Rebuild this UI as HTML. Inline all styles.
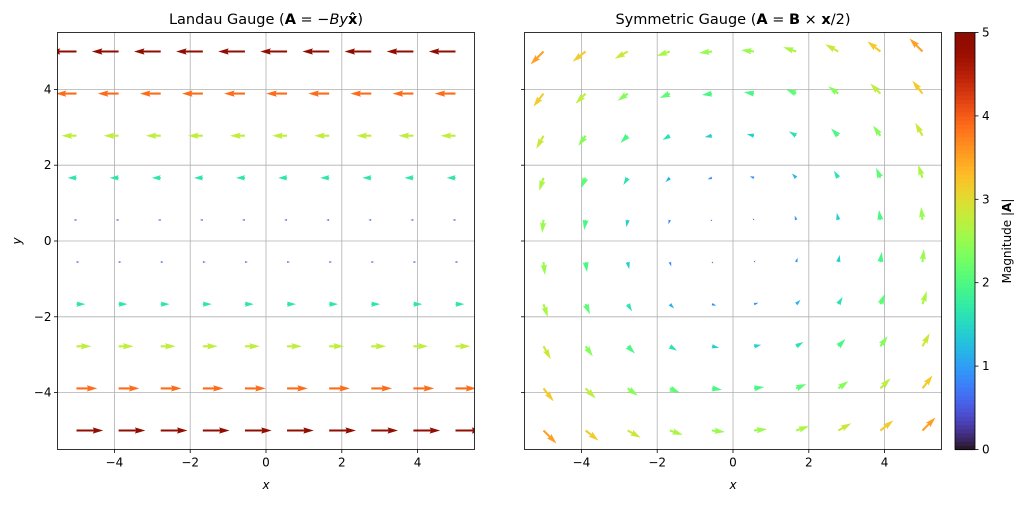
<!DOCTYPE html>
<html><head><meta charset="utf-8"><style>
body{margin:0;background:#fff;}
svg text{font-family:"DejaVu Sans","Liberation Sans",sans-serif;fill:#000;}
</style></head><body>
<svg id="s" width="1024" height="501" xmlns="http://www.w3.org/2000/svg"></svg>
<script>
(function(){
const S=document.getElementById('s');const NS='http://www.w3.org/2000/svg';
function el(t,a,txt,parent){const e=document.createElementNS(NS,t);for(const k in a)e.setAttribute(k,a[k]);if(txt!==undefined&&txt!==null)e.textContent=txt;(parent||S).appendChild(e);return e;}
function turbo(x){x=Math.max(0,Math.min(1,x));
const r=0.13572138+x*(4.61539260+x*(-42.66032258+x*(132.13108234+x*(-152.94239396+x*59.28637943))));
const g=0.09140261+x*(2.19418839+x*(4.84296658+x*(-14.18503333+x*(4.27729857+x*2.82956604))));
const b=0.10667330+x*(12.64194608+x*(-60.58204836+x*(110.36276771+x*(-89.90310912+x*27.34824973))));
const c=v=>Math.round(255*Math.max(0,Math.min(1,v)));return 'rgb('+c(r)+','+c(g)+','+c(b)+')';}
const sc=37.9, cy=241, yTop=32.5, yBot=449.5;
function spans(parent,parts){parts.forEach(p=>{const t=document.createElementNS(NS,'tspan');t.textContent=p[0];if(p[1]==='b')t.setAttribute('font-weight','bold');if(p[1]==='i')t.setAttribute('font-style','italic');parent.appendChild(t);});}
const axes=[{cx:266,x0:57.5,x1:474.5,k:5.35,f:(x,y)=>[-y,0],title:[['Landau Gauge ('],['A','b'],[' = −'],['By','i'],['x̂','b'],[')']],yl:true},
{cx:733,x0:524.5,x1:941.5,k:5.2,f:(x,y)=>[-y/2,x/2],title:[['Symmetric Gauge ('],['A','b'],[' = '],['B','b'],[' × '],['x','b'],['/2)']],yl:false}];
const pts=[];for(let i=0;i<10;i++)pts.push(-5+i*10/9);
const defs=el('defs',{});
axes.forEach((A,ai)=>{
 const cid='c'+ai;
 const cp=el('clipPath',{id:cid},null,defs);
 el('rect',{x:A.x0,y:yTop,width:A.x1-A.x0,height:yBot-yTop},null,cp);
 for(let v=-4;v<=4;v+=2){const px=A.cx+v*sc;el('line',{x1:px,x2:px,y1:yTop,y2:yBot,stroke:'#b0b0b0','stroke-width':0.8});
  const py=cy-v*sc;el('line',{x1:A.x0,x2:A.x1,y1:py,y2:py,stroke:'#b0b0b0','stroke-width':0.8});
  el('line',{x1:px,x2:px,y1:yBot,y2:yBot+3.5,stroke:'#000','stroke-width':0.8});
  el('line',{x1:A.x0-3.5,x2:A.x0,y1:py,y2:py,stroke:'#000','stroke-width':0.8});
  const lab=(v<0?'−':'')+Math.abs(v);
  el('text',{x:px,y:yBot+17,'font-size':12,'text-anchor':'middle'},lab);
  if(A.yl)el('text',{x:A.x0-6,y:py+4,'font-size':12,'text-anchor':'end'},lab);}
 const g=el('g',{'clip-path':'url(#'+cid+')'});
 const w=2.1,HL=5*w,HW=3*w,HAL=4.5*w;
 pts.forEach(x=>pts.forEach(y=>{
  const uv=A.f(x,y);const u=uv[0],v=uv[1];const m=Math.hypot(u,v);if(m<1e-9)return;
  const L=m*A.k;const tx=A.cx+x*sc,ty=cy-y*sc;const dx=u/m,dy=-v/m;
  let s=1;if(L<HL)s=L/HL;
  const ww=w*s,hl=HL*s,hw=HW*s,hal=HAL*s;
  const P=[[0,-ww/2],[L-hal,-ww/2],[L-hl,-hw/2],[L,0],[L-hl,hw/2],[L-hal,ww/2],[0,ww/2]];
  const d=P.map(q=>(tx+q[0]*dx-q[1]*dy).toFixed(2)+','+(ty+q[0]*dy+q[1]*dx).toFixed(2)).join(' ');
  el('polygon',{points:d,fill:turbo(m/5)},null,g);
 }));
 el('rect',{x:A.x0,y:yTop,width:A.x1-A.x0,height:yBot-yTop,fill:'none',stroke:'#000','stroke-width':0.8});
 const t=el('text',{x:A.cx,y:24,'font-size':14.5,'text-anchor':'middle'});spans(t,A.title);
 el('text',{x:A.cx,y:489,'font-size':12,'text-anchor':'middle','font-style':'italic'},'x');
});
el('text',{x:0,y:0,'font-size':12,'font-style':'italic','text-anchor':'middle',transform:'translate(21,241) rotate(-90)'},'y');
for(let i=0;i<100;i++){const y0=yBot-(i+1)*(yBot-yTop)/100;el('rect',{x:955,y:y0,width:20,height:(yBot-yTop)/100+0.6,fill:turbo((i+0.5)/100)});}
el('rect',{x:955,y:yTop,width:20,height:yBot-yTop,fill:'none',stroke:'#000','stroke-width':0.8});
for(let v=0;v<=5;v++){const py=yBot-v*(yBot-yTop)/5;el('line',{x1:975,x2:978.5,y1:py,y2:py,stroke:'#000','stroke-width':0.8});
 el('text',{x:982,y:py+4,'font-size':12},String(v));}
const cl=el('text',{x:0,y:0,'font-size':12,'text-anchor':'middle',transform:'translate(1011,241) rotate(-90)'});
spans(cl,[['Magnitude |'],['A','b'],['|']]);
})();
</script>
</body></html>
